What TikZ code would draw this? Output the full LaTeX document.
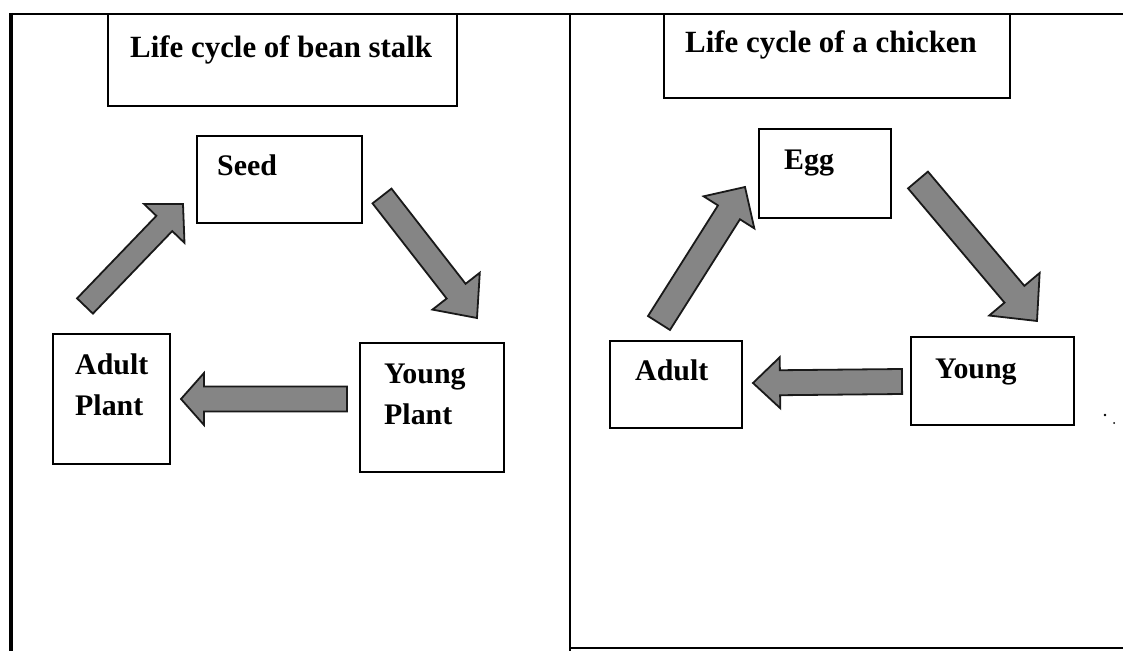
\documentclass[tikz,border=0pt]{standalone}
\usepackage{fontspec}
\setmainfont{Liberation Serif}
\usetikzlibrary{calc,fit}

% block arrow: #1 tail, #2 tip, #3 shaft half width, #4 head half width, #5 head length
\newcommand{\lcarrow}[5]{%
  \coordinate (lc-base) at ($(#2)!#5!(#1)$);
  \filldraw[arrowbody]
    ($(#1)!#3!90:(#2)$) -- ($(lc-base)!#3!90:(#2)$) -- ($(lc-base)!#4!90:(#2)$)
    -- (#2)
    -- ($(lc-base)!#4!-90:(#2)$) -- ($(lc-base)!#3!-90:(#2)$) -- ($(#1)!#3!-90:(#2)$)
    -- cycle;%
}

\begin{document}
\begin{tikzpicture}[x=1bp,y=-1bp,
  box/.style={draw=black, line width=1.1bp, inner sep=0pt},
  lbl/.style={font=\fontsize{30}{32}\selectfont\bfseries, anchor=base west, inner sep=0pt},
  ttl/.style={font=\fontsize{31}{33}\selectfont\bfseries, anchor=base west, inner sep=0pt},
  arrowbody/.style={fill=black!48, draw=black!90, line width=1.8bp, line join=miter}
]
\useasboundingbox (0,0) rectangle (1123,651);

% outer frame and divider
\draw[line width=2.5bp] (9,14) -- (1123,14);
\draw[line width=4bp] (11,13) -- (11,651);
\draw[line width=1.2bp] (570,14) -- (570,651);
\draw[line width=2bp] (569,648) -- (1123,648);

% ---------- bean stalk ----------
\node[box, fit={(108,14) (457,106)}] (ttlA) {};
\node[ttl] (ttlAtxt) at (130,58) {Life cycle of bean stalk};

\node[box, fit={(197,136) (362,223)}] (seed) {};
\node[lbl] (seedtxt) at (217,176) {Seed};

\node[box, fit={(53,334) (170,464)}] (adultplant) {};
\node[lbl] (adultplanttxt1) at (75,374) {Adult};
\node[lbl] (adultplanttxt2) at (75,415) {Plant};

\node[box, fit={(360,343) (504,472)}] (youngplant) {};
\node[lbl] (youngplanttxt1) at (384,383) {Young};
\node[lbl] (youngplanttxt2) at (384,424) {Plant};

\coordinate (b1t) at (85,306);  \coordinate (b1h) at (183,204);
\coordinate (b2t) at (382,196); \coordinate (b2h) at (477,318);
\coordinate (b3t) at (347,399); \coordinate (b3h) at (181,399);
\lcarrow{b1t}{b1h}{11bp}{28bp}{27bp}
\lcarrow{b2t}{b2h}{12bp}{30bp}{34bp}
\lcarrow{b3t}{b3h}{12.5bp}{26bp}{23bp}

% ---------- chicken ----------
\node[box, fit={(664,14) (1010,98)}] (ttlB) {};
\node[ttl] (ttlBtxt) at (685,53) {Life cycle of a chicken};

\node[box, fit={(759,129) (891,218)}] (egg) {};
\node[lbl] (eggtxt) at (784,170) {Egg};

\node[box, fit={(610,341) (742,428)}] (adult) {};
\node[lbl] (adulttxt) at (635,380) {Adult};

\node[box, fit={(911,337) (1074,425)}] (young) {};
\node[lbl] (youngtxt) at (935,378) {Young};

\coordinate (c1t) at (659,323);  \coordinate (c1h) at (745,187);
\coordinate (c2t) at (918,180);  \coordinate (c2h) at (1037,321);
\coordinate (c3t) at (902,381.5); \coordinate (c3h) at (753,383);
\lcarrow{c1t}{c1h}{13bp}{30bp}{30bp}
\lcarrow{c2t}{c2h}{13bp}{33bp}{35bp}
\lcarrow{c3t}{c3h}{12.5bp}{25.5bp}{27bp}

% stray specks
\fill (1105,415) circle (1.3bp);
\fill (1114,423) circle (1bp);
\end{tikzpicture}
\end{document}
